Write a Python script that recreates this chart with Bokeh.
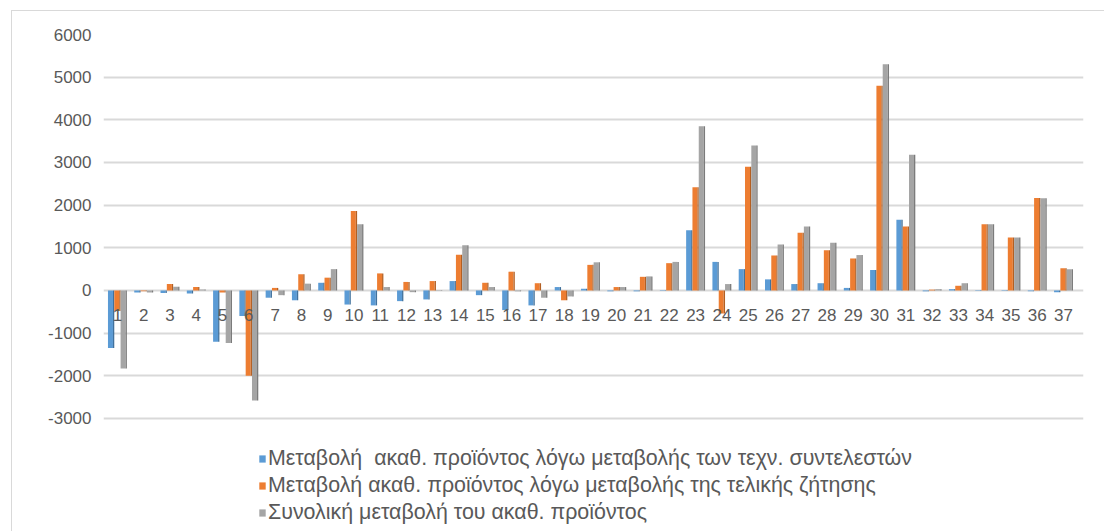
from bokeh.plotting import figure
from bokeh.models import ColumnDataSource, Range1d, FixedTicker, Legend, LegendItem, InlineStyleSheet
from bokeh.embed import file_html
from bokeh.resources import INLINE
from bokeh.core.properties import value

categories = ["1", "2", "3", "4", "5", "6", "7", "8", "9", "10", "11", "12", "13",
              "14", "15", "16", "17", "18", "19", "20", "21", "22", "23", "24", "25",
              "26", "27", "28", "29", "30", "31", "32", "33", "34", "35", "36", "37"]

tech_coef = [-1350, -50, -60, -70, -1200, -600, -170, -230, 180, -330, -350, -250, -210,
             220, -110, -460, -350, 80, 40, -20, -20, -10, 1410, 670, 500,
             260, 150, 170, 60, 480, 1660, -20, 30, -10, -10, -20, -40]

final_demand = [-480, -20, 150, 80, -50, -2000, 60, 380, 300, 1860, 400, 200, 220,
                840, 180, 440, 170, -230, 600, 80, 320, 640, 2420, -540, 2900,
                820, 1350, 940, 750, 4800, 1500, 20, 110, 1550, 1240, 2170, 520]

total_change = [-1830, -50, 90, 20, -1230, -2580, -110, 160, 500, 1550, 80, -40, -10,
                1060, 80, -20, -170, -140, 660, 80, 330, 670, 3850, 150, 3400,
                1080, 1500, 1120, 830, 5300, 3180, 30, 170, 1550, 1240, 2160, 500]

series_names = ["Μεταβολή  ακαθ. προϊόντος λόγω μεταβολής των τεχν. συντελεστών",
                "Μεταβολή ακαθ. προϊόντος λόγω μεταβολής της τελικής ζήτησης",
                "Συνολική μεταβολή του ακαθ. προϊόντος"]

y_ticks = [-3000, -2000, -1000, 0, 1000, 2000, 3000, 4000, 5000, 6000]
y_tick_labels = ["-3000", "-2000", "-1000", "0", "1000", "2000", "3000", "4000", "5000", "6000"]

colors = ["#5B9BD5", "#ED7D31", "#A5A5A5"]
side_colors = ["#41719C", "#B35F22", "#7B7B7B"]
FONT = "Liberation Sans"
TXT = "#595959"

xpos = list(range(1, len(categories) + 1))

p = figure(width=1104, height=531, output_backend="svg", toolbar_location=None,
           x_range=Range1d(0.47, 37.76), y_range=Range1d(-5650, 6000),
           x_axis_location=None,
           min_border_left=103, min_border_right=21, min_border_top=34, min_border_bottom=0)

p.border_fill_color = None
p.background_fill_color = None
p.outline_line_color = None
p.stylesheets = [InlineStyleSheet(css=(
    ":host { position: relative; }"
    ":host::after { content: ''; position: absolute; left: 11px; top: 10px; "
    "width: 2000px; height: 2000px; border-left: 1px solid #d9d9d9; "
    "border-top: 1px solid #d9d9d9; pointer-events: none; box-sizing: border-box; }"
))]

for g in p.xgrid:
    g.visible = False

p.yaxis.ticker = FixedTicker(ticks=y_ticks)
p.yaxis.major_label_overrides = dict(zip(y_ticks, y_tick_labels))
p.yaxis.axis_line_color = None
p.yaxis.major_tick_line_color = None
p.yaxis.minor_tick_line_color = None
p.yaxis.major_tick_out = 0
p.yaxis.major_tick_in = 0
p.yaxis.major_label_standoff = 12
p.yaxis.major_label_text_font = FONT
p.yaxis.major_label_text_font_size = "17px"
p.yaxis.major_label_text_color = TXT
p.ygrid.grid_line_color = "#d9d9d9"
p.ygrid.grid_line_width = 2

offsets = [-0.24, 0.0, 0.24]
renderers = []
for vals, off, col, scol in zip([tech_coef, final_demand, total_change], offsets, colors, side_colors):
    src = ColumnDataSource(dict(x=[i + off - 0.025 for i in xpos], top=vals))
    r = p.vbar(x="x", top="top", bottom=0, width=0.19, source=src,
               fill_color=col, line_color=None)
    side = ColumnDataSource(dict(x=[i + off + 0.095 for i in xpos], top=vals))
    p.vbar(x="x", top="top", bottom=0, width=0.05, source=side,
           fill_color=scol, line_color=None)
    renderers.append(r)

lab_src = ColumnDataSource(dict(x=xpos, y=[0] * len(xpos), text=categories))
p.text(x="x", y="y", text="text", source=lab_src, text_align="center",
       text_baseline="top", y_offset=19, text_font=value(FONT),
       text_font_size="17px", text_color=TXT)

legend = Legend(items=[LegendItem(label=n, renderers=[r]) for n, r in zip(series_names, renderers)],
                location=(155, 6), orientation="vertical",
                label_text_font=FONT, label_text_font_size="21.4px", label_text_color=TXT,
                glyph_width=8, glyph_height=9, label_standoff=2, spacing=2,
                label_height=25, padding=0, margin=0,
                border_line_color=None, background_fill_alpha=0)
p.add_layout(legend)

open("out.html", "w").write(file_html(p, INLINE))
